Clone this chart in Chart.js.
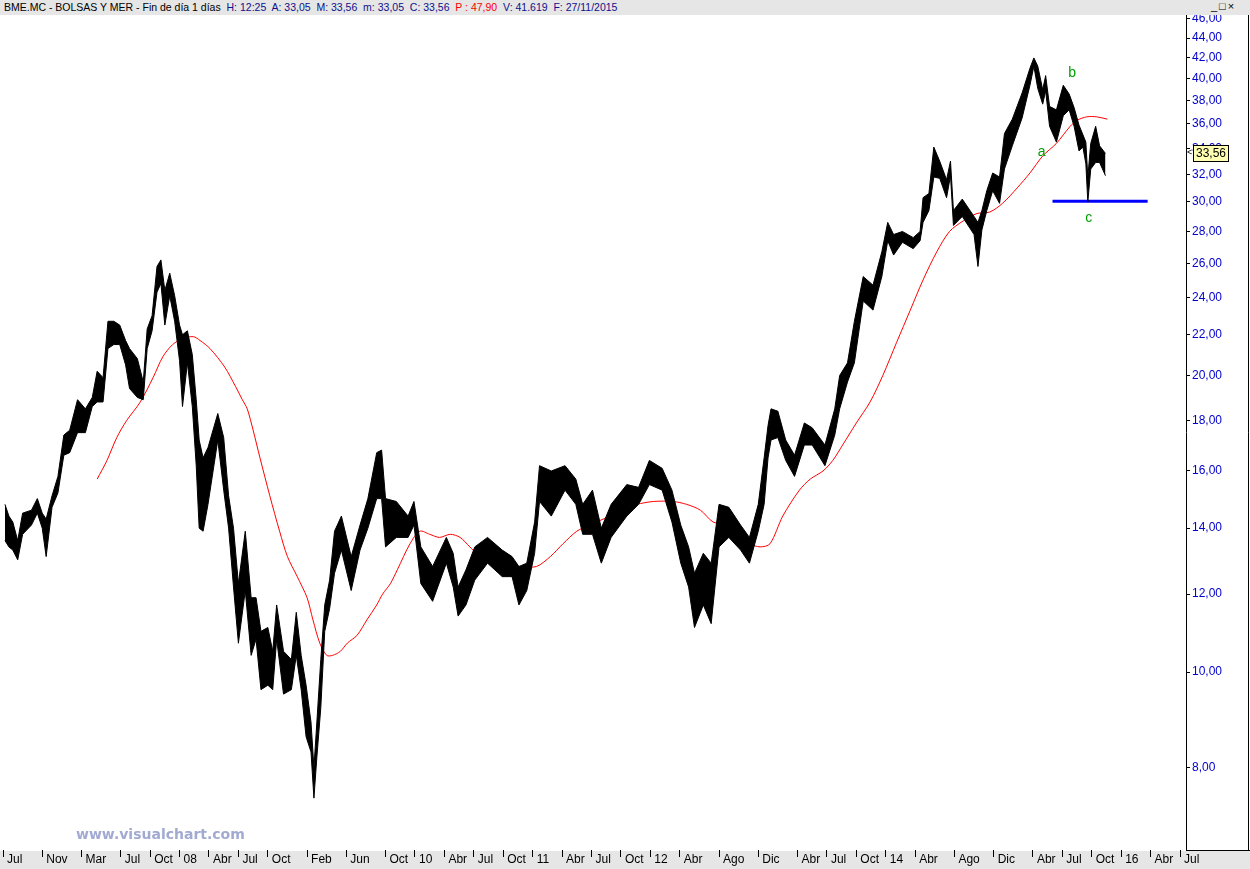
<!DOCTYPE html>
<html>
<head>
<meta charset="utf-8">
<script src="https://cdn.jsdelivr.net/npm/chart.js@4.4.1/dist/chart.umd.min.js"></script>
<style>
  html, body { margin: 0; padding: 0; background: #ffffff; }
  #wrap { position: relative; width: 1250px; height: 869px; overflow: hidden; font-family: "Liberation Sans", Arial, sans-serif; }
  #c { position: absolute; left: 0; top: 0; }
  #hdr { position: absolute; left: 0; top: 0; width: 1250px; height: 15px; background: #e6e6e6; font-size: 10.5px; line-height: 15px; white-space: nowrap; }
  #hdr .t { position: absolute; left: 4px; top: 0; }
  .k { color: #000000; } .n { color: #10108c; } .r { color: #ff0000; }
  #btns { position: absolute; left: 1211px; top: 0; font-size: 11px; line-height: 13px; color: #000; letter-spacing: 2px; }
  #wm { position: absolute; left: 76px; top: 826px; font-family: "DejaVu Sans", Verdana, sans-serif; font-size: 14px; font-weight: bold; color: #a2aad2; }
</style>
</head>
<body>
<div id="wrap">
  <canvas id="c" width="1250" height="869"></canvas>
  <div id="hdr"><span class="t"><span class="k">BME.MC - BOLSAS Y MER - Fin de día 1 días&nbsp; </span><span class="n">H: 12:25&nbsp; A: 33,05&nbsp; M: 33,56&nbsp; m: 33,05&nbsp; C: 33,56&nbsp; </span><span class="r">P : 47,90&nbsp; </span><span class="n">V: 41.619&nbsp; F: 27/11/2015</span></span><span id="btns">_□×</span></div>
  <div id="wm">www.visualchart.com</div>
</div>
<script>
// ---- data (x in months since Jul 2006) ----
const priceMonths = [0.2,0.6,1.0,1.5,2.0,2.9,3.5,4.0,4.4,5.0,5.6,6.2,6.8,7.6,8.4,9.1,9.6,10.2,10.7,11.3,11.9,12.5,12.9,13.7,14.3,14.7,15.2,15.7,16.1,16.5,17.0,17.5,18.0,18.3,18.8,19.3,19.7,20.0,20.4,20.9,21.9,22.5,23.0,23.5,24.0,24.7,25.3,25.8,26.3,27.0,27.5,27.9,28.6,29.4,29.9,30.4,30.9,31.4,31.7,32.0,32.4,32.8,33.3,33.8,34.5,35.5,36.4,37.2,38.1,38.6,39.0,40.1,41.3,41.9,42.6,43.8,45.2,45.9,46.4,47.2,48.1,49.4,50.9,51.9,52.6,53.4,54.2,54.7,55.9,57.3,58.4,59.1,60.1,61.0,62.0,63.6,64.8,65.9,67.2,68.2,69.1,69.9,70.5,71.4,72.2,73.0,74.0,75.2,76.1,77.0,77.6,78.0,78.3,79.0,79.8,80.7,81.7,82.5,83.8,84.8,85.3,86.1,86.8,87.7,88.7,89.6,90.2,90.8,91.7,92.8,93.5,93.8,94.4,94.9,95.5,96.2,96.6,96.9,97.8,99.0,99.4,99.8,100.3,100.9,101.6,102.1,102.9,103.9,104.7,105.1,105.5,106.0,106.3,106.7,107.4,108.1,108.7,109.2,109.7,110.1,110.4,110.6,110.9,111.4,111.8,112.4];
const priceLows = [13.6,13.4,13.3,13.0,13.8,14.1,14.5,14.0,13.1,14.7,15.2,16.6,16.7,17.5,17.5,18.6,18.8,18.8,21.3,21.5,21.5,20.5,19.4,19.0,18.9,21.3,22.2,24.3,24.8,22.5,24.1,22.7,20.7,18.6,20.6,18.6,16.2,14.0,13.9,14.8,17.2,15.3,14.0,12.2,10.7,12.1,10.4,10.8,9.6,9.7,9.6,10.8,9.5,9.6,10.4,9.6,8.6,8.3,7.45,8.2,9.2,11.0,11.6,12.6,13.3,12.1,13.3,14.0,15.0,15.0,13.4,13.7,13.7,14.1,12.3,11.8,12.9,12.2,11.4,11.7,12.4,12.9,12.5,12.5,11.7,12.1,13.2,14.9,14.4,15.3,14.8,13.8,13.8,12.9,13.7,14.4,14.8,15.5,15.3,14.2,12.9,12.2,11.1,11.7,11.2,13.4,13.7,13.3,12.9,13.9,14.8,16.5,17.2,17.3,16.4,15.8,17.0,17.0,16.2,17.4,18.5,19.7,20.6,23.8,23.3,25.2,27.4,26.5,27.3,26.9,27.4,28.6,29.4,31.8,31.7,30.3,31.9,28.4,29.0,27.8,25.8,28.1,29.4,30.8,29.9,32.4,34.2,36.5,39.4,41.2,39.1,37.7,38.9,35.8,34.5,36.7,37.2,35.8,33.8,34.1,32.8,30.0,32.4,32.9,32.9,31.9];
const priceHighs = [14.8,14.4,14.2,13.6,14.5,14.6,15.0,14.5,14.3,15.1,15.8,17.4,17.6,18.9,18.5,19.0,20.2,19.9,22.7,22.7,22.5,21.7,21.3,20.8,19.7,22.3,23.0,25.8,26.2,24.4,25.4,24.1,22.5,22.0,22.2,21.0,18.9,17.2,16.5,16.9,18.3,17.3,15.1,14.0,12.3,13.9,11.9,11.9,11.0,11.1,10.5,11.7,10.5,10.3,11.5,10.4,9.7,8.9,8.0,8.9,10.3,11.7,12.4,13.9,14.4,13.1,14.1,15.0,16.7,16.8,15.0,14.9,14.4,14.9,13.4,12.8,13.7,13.2,12.2,12.7,13.4,13.7,13.3,13.1,12.8,12.9,14.2,16.2,16.0,16.2,15.7,14.8,15.3,14.0,14.8,15.5,15.4,16.4,16.1,15.3,14.1,13.4,12.6,13.2,12.9,14.8,14.7,14.1,13.7,14.8,16.5,17.8,18.5,18.4,17.2,16.6,17.9,17.7,17.0,18.5,20.0,20.6,22.7,25.2,24.7,26.7,28.6,27.8,28.0,27.6,28.0,30.3,30.6,34.1,33.0,31.6,33.0,29.4,30.2,29.0,28.6,29.4,30.8,32.1,31.8,35.2,36.4,38.7,41.0,42.0,41.2,39.0,40.3,37.5,37.2,39.4,38.6,37.4,35.9,35.1,34.5,31.8,34.4,35.8,34.2,33.6];
const maMonths = [9.6,10.6,11.6,12.6,14.0,15.3,16.3,17.3,18.3,19.4,20.1,21.1,22.6,23.7,24.4,24.9,25.5,26.2,27.2,28.2,29.0,30.0,31.0,31.6,32.3,33.0,33.6,34.4,35.1,36.1,37.1,38.1,38.7,39.5,40.2,41.5,42.5,43.5,44.5,45.6,46.6,47.6,48.3,49.6,50.7,51.7,53.0,54.4,55.8,57.1,58.5,59.8,61.2,62.6,63.6,64.6,66.3,68.3,69.7,71.1,72.4,73.8,75.1,76.1,77.2,78.2,79.5,81.2,82.3,83.6,84.6,85.6,87.0,88.4,89.7,91.1,92.5,93.8,95.2,96.5,97.9,99.3,100.6,101.9,103.4,104.7,106.0,107.4,108.8,109.5,110.5,111.5,112.6];
const maValues = [15.7,16.4,17.3,18.0,18.8,19.9,20.9,21.5,21.8,21.9,21.7,21.3,20.4,19.5,18.9,18.5,17.6,16.5,15.1,13.9,13.1,12.5,11.9,11.3,10.7,10.4,10.4,10.5,10.7,10.9,11.3,11.7,12.0,12.3,12.7,13.5,13.9,13.8,13.7,13.8,13.7,13.4,13.2,13.1,12.9,12.8,12.8,12.8,13.1,13.5,13.9,14.1,14.3,14.5,14.7,14.8,14.9,14.9,14.8,14.6,14.2,14.1,13.7,13.5,13.4,13.5,14.4,15.3,15.7,16.0,16.4,17.0,17.9,18.8,20.0,21.6,23.3,25.0,26.7,28.0,28.7,29.2,29.3,29.9,31.0,32.1,33.4,34.4,35.8,36.3,36.6,36.6,36.4];
const yTickValues = [8,10,12,14,16,18,20,22,24,26,28,30,32,34,36,38,40,42,44,46];
const xTickMonths = [0,4,8,12,15,18,21,24,27,31,35,39,42,45,48,51,54,57,60,63,66,69,73,77,81,84,87,90,93,97,101,105,108,111,114,117,120];
const xTickLabels = ['Jul','Nov','Mar','Jul','Oct','08','Abr','Jul','Oct','Feb','Jun','Oct','10','Abr','Jul','Oct','11','Abr','Jul','Oct','12','Abr','Ago','Dic','Abr','Jul','Oct','14','Abr','Ago','Dic','Abr','Jul','Oct','16','Abr','Jul'];
const supportLevel = 30.05, supportFrom = 107.0, supportTo = 116.7;
const waveLabels = ['a','b','c'];
const waveMonths = [105.9,109.0,110.7];
const waveValues = [33.7,40.5,28.9];
const lastClose = 33.56;

const toXY = (xs, ys) => xs.map((x, i) => ({x: x, y: ys[i]}));
const fmt = v => Number(v).toFixed(2).replace('.', ',');

const framePlugin = {
  id: 'frame',
  beforeDraw(chart) {
    const {ctx, chartArea} = chart;
    ctx.save();
    ctx.fillStyle = '#e6e6e6';
    ctx.fillRect(0, chartArea.bottom + 1, chart.width, chart.height - chartArea.bottom - 1);
    ctx.restore();
  },
  afterDatasetsDraw(chart) {
    const {ctx} = chart;
    const xs = chart.scales.x, ys = chart.scales.y;
    ctx.save();
    ctx.fillStyle = '#00a000';
    ctx.font = '14px "Liberation Sans", Arial, sans-serif';
    ctx.textAlign = 'center';
    ctx.textBaseline = 'middle';
    waveLabels.forEach((t, i) => {
      ctx.fillText(t, xs.getPixelForValue(waveMonths[i]), ys.getPixelForValue(waveValues[i]));
    });
    ctx.restore();
  },
  afterDraw(chart) {
    const {ctx, chartArea} = chart;
    const ys = chart.scales.y;
    ctx.save();
    ctx.strokeStyle = '#000';
    ctx.lineWidth = 1;
    ctx.beginPath();
    ctx.moveTo(chart.width - 1.5, chartArea.top);
    ctx.lineTo(chart.width - 1.5, chartArea.bottom + 0.5);
    ctx.moveTo(chartArea.right, chartArea.bottom + 0.5);
    ctx.lineTo(chart.width, chartArea.bottom + 0.5);
    ctx.stroke();
    const py = Math.round(ys.getPixelForValue(lastClose));
    ctx.fillStyle = '#ffffb4';
    ctx.fillRect(1193.5, py - 8.5, 35, 16);
    ctx.strokeRect(1193.5, py - 8.5, 35, 16);
    ctx.fillStyle = '#000';
    ctx.font = '12px "Liberation Sans", Arial, sans-serif';
    ctx.textAlign = 'left';
    ctx.textBaseline = 'middle';
    ctx.fillText(fmt(lastClose), 1196, py);
    ctx.font = '9px "Liberation Sans", Arial, sans-serif';
    ctx.fillText('<', 1187, py - 1);
    ctx.restore();
  }
};

new Chart(document.getElementById('c'), {
  type: 'line',
  data: {
    datasets: [
      { data: toXY(priceMonths, priceHighs), borderColor: '#000', borderWidth: 1, pointRadius: 0, tension: 0, fill: false },
      { data: toXY(priceMonths, priceLows), borderColor: '#000', borderWidth: 1, pointRadius: 0, tension: 0, fill: '-1', backgroundColor: '#000' },
      { data: toXY(maMonths, maValues), borderColor: '#ff0000', borderWidth: 1, pointRadius: 0, tension: 0.3, fill: false },
      { data: [{x: supportFrom, y: supportLevel}, {x: supportTo, y: supportLevel}], borderColor: '#0000ff', borderWidth: 3, pointRadius: 0, fill: false }
    ]
  },
  options: {
    responsive: false,
    animation: false,
    devicePixelRatio: 1,
    layout: { padding: { top: 14, left: 0, right: 0, bottom: 0 } },
    plugins: { legend: { display: false }, tooltip: { enabled: false } },
    scales: {
      x: {
        type: 'linear', position: 'bottom', min: -0.306, max: 120.61,
        afterFit(s) { s.height = 19; },
        afterBuildTicks(s) { s.ticks = xTickMonths.map(v => ({value: v})); },
        grid: { drawOnChartArea: false, drawTicks: true, tickLength: 7, color: '#000' },
        border: { display: false },
        ticks: {
          autoSkip: false, maxRotation: 0, align: 'start', labelOffset: 4, padding: -5,
          color: '#000', font: { family: '"Liberation Sans", Arial, sans-serif', size: 12 },
          callback: (v) => { const i = xTickMonths.indexOf(v); return i >= 0 ? xTickLabels[i] : ''; }
        }
      },
      y: {
        type: 'logarithmic', position: 'right', min: 6.6, max: 46.54,
        afterFit(s) { s.width = 64; },
        afterBuildTicks(s) { s.ticks = yTickValues.map(v => ({value: v})); },
        grid: { drawOnChartArea: false, drawTicks: true, tickLength: 4, color: '#000' },
        border: { display: true, color: '#000', width: 1 },
        ticks: {
          autoSkip: false, padding: 2, color: '#0000cc',
          font: { family: '"Liberation Sans", Arial, sans-serif', size: 12 },
          callback: (v) => fmt(v)
        }
      }
    }
  },
  plugins: [framePlugin]
});
</script>
</body>
</html>
